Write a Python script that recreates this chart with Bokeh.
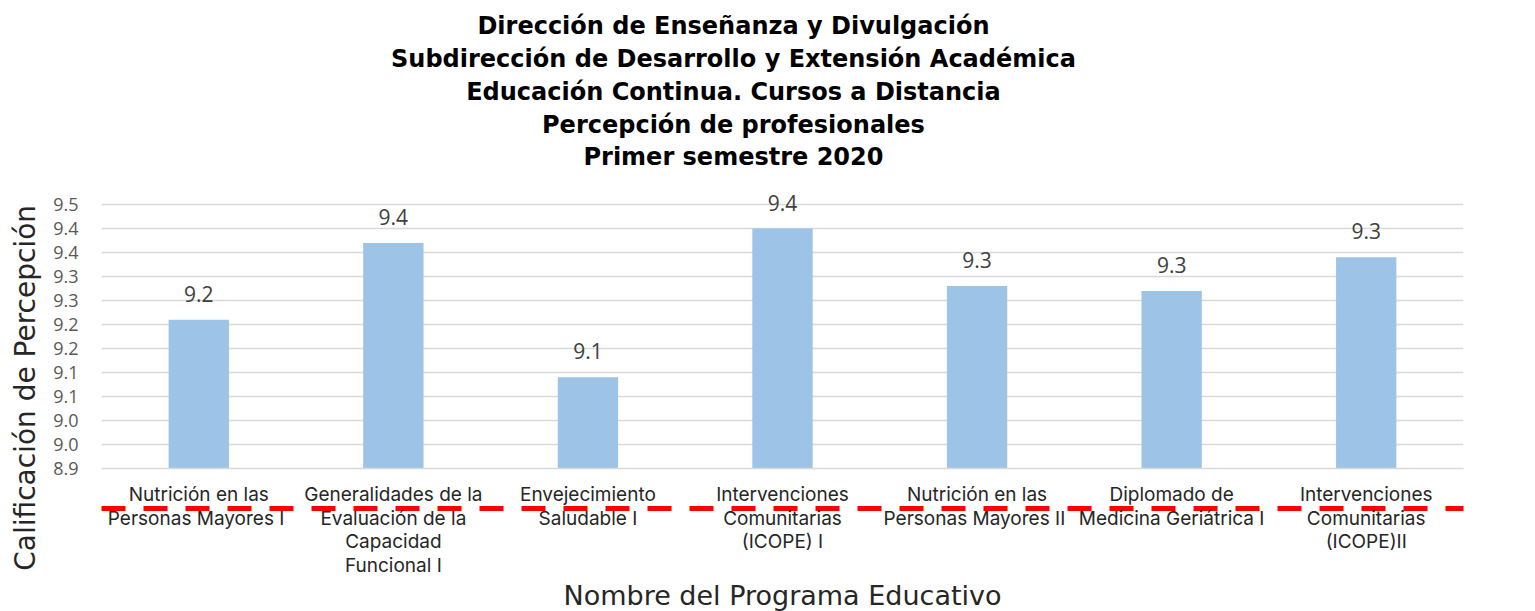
import math
from bokeh.plotting import figure
from bokeh.models import (ColumnDataSource, LabelSet, Label, FixedTicker, CategoricalAxis,
                          FactorRange, CategoricalScale)
from bokeh.embed import file_html
from bokeh.resources import INLINE
from bokeh.core.properties import value

# ---------------- data ----------------
CATEGORIES = [
    "Nutrición en las\nPersonas Mayores  I",
    "Generalidades de la\nEvaluación de la\nCapacidad\nFuncional I",
    "Envejecimiento\nSaludable I",
    "Intervenciones\nComunitarias\n(ICOPE) I",
    "Nutrición en las\nPersonas Mayores  II",
    "Diplomado de\nMedicina Geriátrica I",
    "Intervenciones\nComunitarias\n(ICOPE)II",
]
VALUES = [9.21, 9.37, 9.09, 9.40, 9.28, 9.27, 9.34]
Y_TICKS = [8.9, 8.95, 9.0, 9.05, 9.1, 9.15, 9.2, 9.25, 9.3, 9.35, 9.4, 9.45]
Y_TICK_LABELS = ["8.9", "9.0", "9.0", "9.1", "9.1", "9.2", "9.2", "9.3", "9.3", "9.4", "9.4", "9.5"]
TITLE_LINES = [
    "Dirección de Enseñanza y Divulgación",
    "Subdirección de Desarrollo y Extensión Académica",
    "Educación Continua. Cursos a Distancia",
    "Percepción de profesionales",
    "Primer semestre 2020",
]
X_TITLE = "Nombre del Programa Educativo"
Y_TITLE = "Calificación de Percepción"
Y_MIN, Y_MAX = 8.9, 9.5

BAR_COLOR = "#9DC3E6"
GRID_COLOR = "#D9D9D9"
LABEL_FONT = "Inter"
HEAD_FONT = "DejaVu Sans"
BODY_FONT = "Open Sans"

# category labels split: first line above the red dashed line, the rest below it
# (a zero-width space keeps repeated first lines unique as factors)
FIRST_LINES = []
for c in CATEGORIES:
    f = c.split("\n")[0]
    while f in FIRST_LINES:
        f += "\u200b"
    FIRST_LINES.append(f)
REST_LINES = ["\n".join(c.split("\n")[1:]) for c in CATEGORIES]

src = ColumnDataSource(dict(
    cat=CATEGORIES,
    val=VALUES,
    lbl=[f"{v:.1f}" for v in VALUES],
))

p = figure(
    width=1535, height=611,
    x_range=CATEGORIES, y_range=(Y_MIN, Y_MAX),
    output_backend="svg", toolbar_location=None,
    min_border_left=101, min_border_right=72,
    min_border_top=180, min_border_bottom=140,
)
p.extra_x_ranges = {"first": FactorRange(factors=FIRST_LINES),
                    "rest": FactorRange(factors=REST_LINES)}
p.extra_x_scales = {"first": CategoricalScale(), "rest": CategoricalScale()}
p.outline_line_color = None
p.background_fill_color = "white"
p.border_fill_color = "white"

p.vbar(x="cat", top="val", bottom=Y_MIN, width=0.31, source=src,
       fill_color=BAR_COLOR, line_color=None)

p.add_layout(LabelSet(x="cat", y="val", text="lbl", source=src,
                      text_align="center", text_baseline="alphabetic",
                      y_offset=18, text_font=value(BODY_FONT),
                      text_font_size="21px", text_color="#404040"))

# grid
p.xgrid.grid_line_color = None
p.ygrid.grid_line_color = GRID_COLOR
p.ygrid.grid_line_width = 1.3

# y axis
yax = p.yaxis[0]
yax.ticker = FixedTicker(ticks=Y_TICKS)
yax.major_label_overrides = {t: l for t, l in zip(Y_TICKS, Y_TICK_LABELS)}
yax.axis_line_color = None
yax.major_tick_line_color = None
yax.minor_tick_line_color = None
yax.major_tick_out = 0
yax.major_label_standoff = 23
yax.major_label_text_font = BODY_FONT
yax.major_label_text_font_size = "18px"
yax.major_label_text_color = "#595959"

# x axis 1: grey base line + first line of each category label
xax = p.xaxis[0]
xax.x_range_name = "first"
xax.axis_line_color = GRID_COLOR
xax.axis_line_width = 1.5
xax.major_tick_line_color = None
xax.minor_tick_line_color = None
xax.major_tick_in = 0
xax.major_tick_out = 3
xax.major_label_standoff = 11
xax.major_label_text_font = LABEL_FONT
xax.major_label_text_font_size = "19px"
xax.major_label_text_color = "#262626"
xax.major_label_text_line_height = 1.04

# x axis 2: red dashed line + remaining lines of each category label
xax2 = CategoricalAxis(
    x_range_name="rest",
    axis_line_color="#FF0000", axis_line_width=5, axis_line_dash="24 18",
    major_tick_line_color=None, minor_tick_line_color=None,
    major_tick_in=0, major_tick_out=0,
    major_label_standoff=-2,
    major_label_text_font=LABEL_FONT, major_label_text_font_size="19px",
    major_label_text_color="#262626", major_label_text_line_height=1.04,
)
p.add_layout(xax2, "below")

# title block (side panel above the frame)
p.add_layout(Label(x=3.248, y=9.8505, text="\n".join(TITLE_LINES),
                   text_align="center", text_baseline="top",
                   text_font=HEAD_FONT, text_font_style="bold",
                   text_font_size="24px", text_line_height=1.17,
                   text_color="black"), "above")

# axis titles (side panels)
p.add_layout(Label(x=3.5, y=8.6361, text=X_TITLE,
                   text_align="center", text_baseline="alphabetic",
                   text_font=HEAD_FONT, text_font_size="27px",
                   text_color="#262626"), "below")
p.add_layout(Label(x=-0.3906, y=9.068, angle=math.pi / 2, text=Y_TITLE,
                   text_align="center", text_baseline="alphabetic",
                   text_font=HEAD_FONT, text_font_size="28px",
                   text_color="#262626"), "left")

open("out.html", "w").write(file_html(p, INLINE))
